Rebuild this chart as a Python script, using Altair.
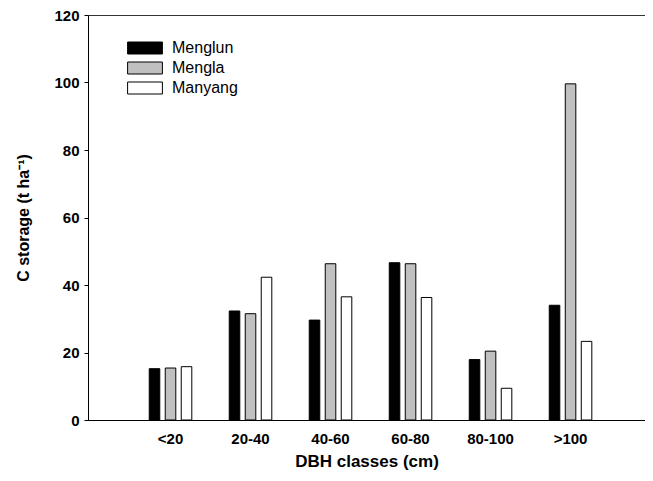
import altair as alt
import pandas as pd

categories = ["<20", "20-40", "40-60", "60-80", "80-100", ">100"]
series = ["Menglun", "Mengla", "Manyang"]
menglun = [15.2, 32.3, 29.6, 46.6, 17.9, 34.0]
mengla = [15.4, 31.5, 46.3, 46.3, 20.4, 99.6]
manyang = [15.8, 42.3, 36.5, 36.3, 9.4, 23.3]
colors = ["#000000", "#c0c0c0", "#ffffff"]

rows = []
for name, vals in zip(series, [menglun, mengla, manyang]):
    for c, v in zip(categories, vals):
        rows.append({"DBH": c, "Site": name, "C": v})
df = pd.DataFrame(rows)

FONT = "Liberation Sans"

chart = alt.Chart(df).mark_bar(stroke="black", strokeWidth=1).encode(
    x=alt.X(
        "DBH:N",
        sort=categories,
        scale=alt.Scale(paddingInner=0.4, paddingOuter=0.681, align=0.537),
        axis=alt.Axis(
            title="DBH classes (cm)",
            labelAngle=0,
            ticks=False,
            labelPadding=11,
            labelFont=FONT,
            labelFontSize=15,
            labelFontWeight="bold",
            labelColor="black",
            titleFont=FONT,
            titleFontSize=17,
            titleFontWeight="bold",
            titleColor="black",
            titlePadding=7,
            domainColor="black",
        ),
    ),
    xOffset=alt.XOffset(
        "Site:N",
        sort=series,
        scale=alt.Scale(paddingInner=0.34, paddingOuter=0.17),
    ),
    y=alt.Y(
        "C:Q",
        scale=alt.Scale(domain=[0, 120], nice=False, zero=True),
        axis=alt.Axis(
            title="C storage (t ha\u207b\u00b9)",
            values=[0, 20, 40, 60, 80, 100, 120],
            grid=False,
            tickSize=4,
            tickColor="black",
            labelPadding=5,
            labelFont=FONT,
            labelFontSize=15,
            labelFontWeight="bold",
            labelColor="black",
            titleFont=FONT,
            titleFontSize=16,
            titleFontWeight="bold",
            titleColor="black",
            titlePadding=22,
            domainColor="black",
        ),
    ),
    fill=alt.Fill(
        "Site:N",
        sort=series,
        scale=alt.Scale(domain=series, range=colors),
        legend=alt.Legend(
            title=None,
            orient="none",
            legendX=49,
            legendY=25,
            padding=0,
            symbolType="M-2.9,-1L2.9,-1L2.9,1L-2.9,1Z",
            symbolSize=144,
            symbolStrokeColor="black",
            symbolStrokeWidth=1,
            symbolOpacity=1,
            labelFont=FONT,
            labelFontSize=16,
            labelColor="black",
            labelOffset=19,
            rowPadding=4,
        ),
    ),
).properties(
    width=557,
    height=405,
    autosize=alt.AutoSizeParams(type="none"),
    padding={"left": 80, "top": 7, "right": 0, "bottom": 53},
).configure_view(
    stroke="#333333",
    strokeWidth=1,
)

chart.save("out.html", embed_options={"renderer": "svg", "actions": False})
